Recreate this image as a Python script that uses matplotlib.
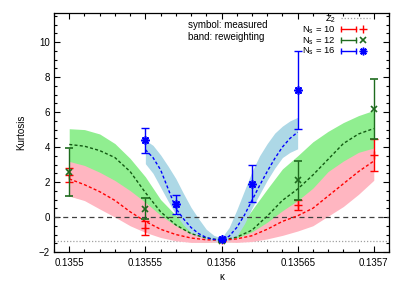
import numpy as np
import matplotlib
matplotlib.use("Agg")
import matplotlib.pyplot as plt
from matplotlib.lines import Line2D
from matplotlib.legend_handler import HandlerLine2D, HandlerTuple
from matplotlib.ticker import MultipleLocator, FixedLocator

plt.rcParams['font.family'] = ['Liberation Sans', 'DejaVu Sans']
plt.rcParams['mathtext.default'] = 'regular'

# ---------------- data ----------------
kappa_ticks = [0.1355, 0.13555, 0.1356, 0.13565, 0.1357]
kappa_tick_labels = ["0.1355", "0.13555", "0.1356", "0.13565", "0.1357"]
z2_value = -1.396

# measured points
k_10 = [0.1355, 0.13555, 0.1356, 0.13565, 0.1357]
y_10 = [2.40, -0.63, -1.33, 0.67, 3.55]
e_10 = [0.42, 0.42, 0.05, 0.28, 0.93]

k_12 = [0.1355, 0.13555, 0.1356, 0.13565, 0.1357]
y_12 = [2.57, 0.48, -1.36, 2.10, 6.18]
e_12 = [1.38, 0.60, 0.05, 1.13, 1.70]

k_16 = [0.13555, 0.13557, 0.1356, 0.13562, 0.13565]
y_16 = [4.38, 0.72, -1.24, 1.91, 7.29]
e_16 = [0.71, 0.55, 0.08, 1.04, 2.23]

# reweighting bands (Ns = 10 and 12)
k_band = [0.1355, 0.13551, 0.13552, 0.13553, 0.13554, 0.13555, 0.13556,
          0.13557, 0.13558, 0.13559, 0.1356, 0.13561, 0.13562, 0.13563,
          0.13564, 0.13565, 0.13566, 0.13567, 0.13568, 0.13569, 0.1357]
c_10 = [2.18, 1.85, 1.45, 0.95, 0.30, -0.25, -0.70, -1.00, -1.20, -1.30, -1.33,
        -1.25, -1.07, -0.70, -0.25, 0.07, 0.50, 1.20, 1.90, 2.60, 3.20]
lo_10 = [1.20, 0.94, 0.46, 0.00, -0.50, -0.88, -1.17, -1.36, -1.45, -1.45, -1.42,
         -1.45, -1.40, -1.25, -1.05, -0.80, -0.50, 0.05, 0.60, 1.30, 2.10]
hi_10 = [3.18, 2.95, 2.56, 2.09, 1.51, 0.84, 0.10, -0.50, -0.94, -1.20, -1.33,
         -1.20, -0.85, -0.30, 0.36, 0.94, 1.65, 2.60, 3.20, 3.70, 3.95]

c_12 = [4.15, 4.05, 3.80, 3.40, 2.60, 1.40, 0.30, -0.45, -0.95, -1.20, -1.33,
        -1.15, -0.75, 0.05, 0.95, 1.60, 2.40, 3.30, 4.20, 4.75, 5.06]
lo_12 = [1.20, 1.00, 0.60, 0.15, -0.35, -0.75, -1.05, -1.30, -1.40, -1.42, -1.42,
         -1.40, -1.30, -1.05, -0.75, -0.45, -0.10, 0.50, 1.10, 1.80, 2.60]
hi_12 = [5.05, 5.00, 4.75, 4.20, 3.35, 2.30, 1.00, 0.10, -0.65, -1.10, -1.30,
         -0.80, 0.40, 1.60, 2.75, 3.50, 4.30, 4.90, 5.40, 5.80, 6.10]

# reweighting band (Ns = 16)
k_band16 = [0.13555, 0.135555, 0.13556, 0.135565, 0.13557, 0.135575, 0.13558,
            0.135585, 0.13559, 0.135595, 0.1356, 0.135605, 0.13561, 0.135615,
            0.13562, 0.135625, 0.13563, 0.135635, 0.13564, 0.135645, 0.13565]
c_16 = [3.85, 3.40, 2.70, 1.60, 0.50, -0.10, -0.60, -0.95, -1.17, -1.28, -1.30,
        -1.10, -0.60, 0.10, 0.95, 1.80, 2.60, 3.35, 4.00, 4.50, 4.85]
lo_16 = [3.05, 2.50, 1.70, 0.90, 0.15, -0.45, -0.88, -1.10, -1.27, -1.36, -1.40,
         -1.35, -1.10, -0.40, 0.50, 1.30, 2.10, 2.80, 3.40, 3.70, 3.90]
hi_16 = [4.40, 4.10, 3.55, 2.90, 2.20, 1.35, 0.55, -0.10, -0.70, -1.05, -1.20,
         -0.60, 0.40, 1.50, 2.60, 3.50, 4.20, 4.80, 5.20, 5.50, 5.70]

labels = ["Z$_2$", "N$_s$ = 10", "N$_s$ = 12", "N$_s$ = 16"]

# ---------------- plot ----------------
fig = plt.figure(figsize=(4.04, 2.84), dpi=100)
ax = fig.add_axes([54/404, 32/284, 335/404, 238.7/284])

col_r, col_g, col_b = "#ff0000", "#1e6b1e", "#0000ff"
band_r, band_g, band_b = "#ffb6c1", "#90ee90", "#add8e6"
asterisk = (8, 2, 0)

z2_line = ax.axhline(z2_value, color="#a0a0a0", lw=0.9, ls=(0, (1, 1.5)), zorder=1)

ax.fill_between(k_band, lo_12, hi_12, color=band_g, lw=0, zorder=2)
ax.fill_between(k_band, lo_10, hi_10, color=band_r, lw=0, zorder=3)
ax.fill_between(k_band16, lo_16, hi_16, color=band_b, lw=0, zorder=4)

ax.axhline(0, color="#404040", lw=0.9, ls=(0, (4, 3)), zorder=5)

dash = (0, (2.2, 1.6))
ax.plot(k_band, c_12, color="#125a12", lw=1.0, ls=dash, zorder=6)
ax.plot(k_band, c_10, color=col_r, lw=1.0, ls=dash, zorder=6)
ax.plot(k_band16, c_16, color=col_b, lw=1.0, ls=dash, zorder=6)

ax.errorbar(k_10, y_10, yerr=e_10, fmt="+", color=col_r, ms=6, mew=1.0,
            elinewidth=1.0, capsize=3, capthick=1.0, zorder=7)
ax.errorbar(k_12, y_12, yerr=e_12, fmt="x", color=col_g, ms=5, mew=1.2,
            elinewidth=1.0, capsize=3, capthick=1.0, zorder=8)
ax.errorbar(k_16, y_16, yerr=e_16, fmt="none", color=col_b,
            elinewidth=1.0, capsize=3, capthick=1.0, zorder=9)
ax.plot(k_16, y_16, ls="none", marker=asterisk, color=col_b, ms=6, mew=1.2, zorder=9)

ax.set_xlim(0.13549, 0.13571)
ax.set_ylim(-2, 11.65)
ax.xaxis.set_major_locator(FixedLocator(kappa_ticks))
ax.set_xticklabels(kappa_tick_labels)
ax.xaxis.set_minor_locator(MultipleLocator(0.00001))
ax.yaxis.set_major_locator(MultipleLocator(2))
ax.yaxis.set_minor_locator(MultipleLocator(0.5))
ax.tick_params(which="both", direction="in", top=True, right=True,
               labelsize=7, width=0.8, colors="black")
ax.tick_params(which="major", length=4.5)
ax.tick_params(which="minor", length=2.5)
ax.tick_params(axis="x", pad=4)
ax.tick_params(axis="y", pad=3)
for s in ax.spines.values():
    s.set_linewidth(0.9)

ax.set_ylabel("Kurtosis", fontsize=7, labelpad=9)
ax.set_xlabel("κ", fontsize=7, labelpad=3)

ax.text(0.4, 0.95, "symbol: measured", transform=ax.transAxes, fontsize=7,
        ha="left", va="center")
ax.text(0.4, 0.90, "band: reweighting", transform=ax.transAxes, fontsize=7,
        ha="left", va="center")

# legend handles in gnuplot style: line with end caps and centre symbol
def entry(color, marker, ms, mew):
    caps = Line2D([], [], color=color, lw=1.0, marker="|", ms=5, mew=1.0)
    sym = Line2D([], [], color=color, lw=0, marker=marker, ms=ms, mew=mew)
    return caps, sym

hmap = {}
handles = [z2_line]
for color, marker, ms, mew in [(col_r, "+", 6, 1.0), (col_g, "x", 5, 1.2),
                               (col_b, asterisk, 5.5, 1.1)]:
    caps, sym = entry(color, marker, ms, mew)
    hmap[caps] = HandlerLine2D(numpoints=2, marker_pad=0)
    hmap[sym] = HandlerLine2D(numpoints=1)
    handles.append((caps, sym))
hmap[tuple] = HandlerTuple(ndivide=None, pad=0)

leg = ax.legend(handles, labels, handler_map=hmap, loc="upper right",
                bbox_to_anchor=(0.965, 1.03), frameon=False, fontsize=6.8,
                markerfirst=False, handlelength=3.0, handletextpad=0.6,
                labelspacing=-0.08, borderpad=0.3)

fig.savefig("out.png", dpi=100)
